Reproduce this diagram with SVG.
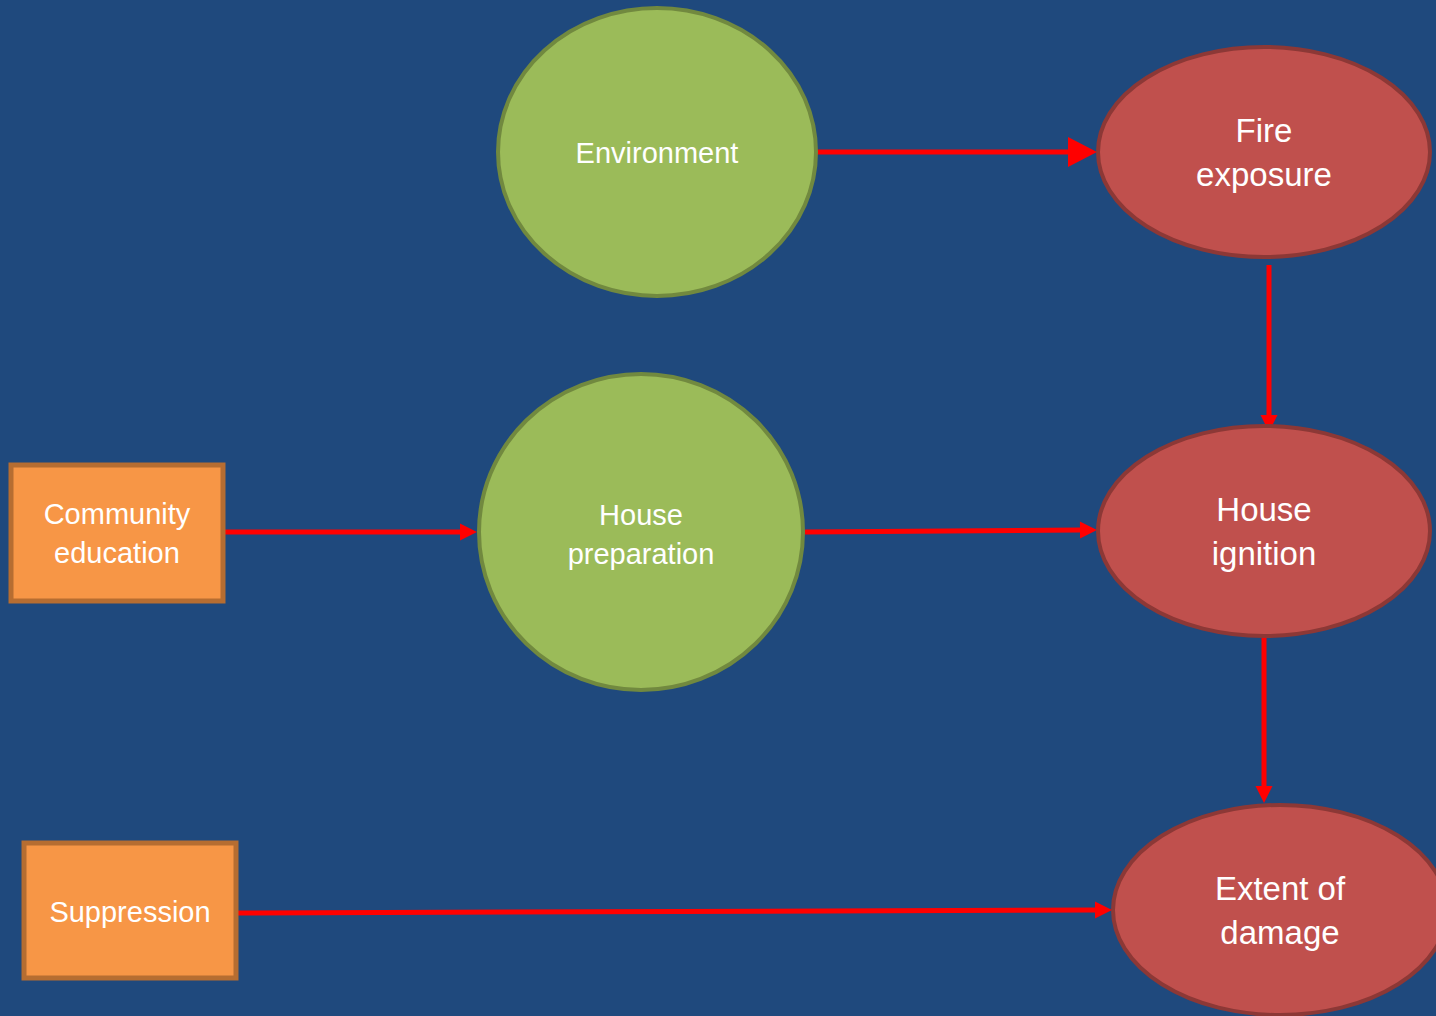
<svg xmlns="http://www.w3.org/2000/svg" width="1436" height="1016" viewBox="0 0 1436 1016">
<style>
.green{fill:#9BBB59;stroke:#71893F;stroke-width:4}
.red{fill:#C0504D;stroke:#8C3836;stroke-width:4}
.orange{fill:#F79646;stroke:#B66D31;stroke-width:5}
.t{font-family:"Liberation Sans",Arial,sans-serif;fill:#FFFFFF;text-anchor:middle}
.s29{font-size:29px}
.s33{font-size:33px}
.c{fill:none;stroke:#FF0000;stroke-width:5}
</style>
<defs>
<marker id="big" markerUnits="userSpaceOnUse" markerWidth="29" markerHeight="30" refX="0" refY="15" orient="auto" overflow="visible">
<path d="M0,0 L29,15 L0,30 Z" fill="#FF0000"/>
</marker>
<marker id="small" markerUnits="userSpaceOnUse" markerWidth="17" markerHeight="17" refX="0" refY="8.5" orient="auto" overflow="visible">
<path d="M0,0 L17,8.5 L0,17 Z" fill="#FF0000"/>
</marker>
</defs>
<rect x="0" y="0" width="1436" height="1016" fill="#1F497D"/>
<g id="connectors">
<path class="c" d="M817,152 L1068,152" marker-end="url(#big)"/>
<path class="c" d="M1269,265 L1269,415" marker-end="url(#small)"/>
<path class="c" d="M225,532 L460,532" marker-end="url(#small)"/>
<path class="c" d="M805,532 L1080,530" marker-end="url(#small)"/>
<path class="c" d="M1264,637 L1264,786" marker-end="url(#small)"/>
<path class="c" d="M238,913 L1095,910" marker-end="url(#small)"/>
</g>
<g id="environment">
<ellipse class="green" cx="657" cy="152" rx="159" ry="144"/>
<text class="t s29" x="657" y="163">Environment</text>
</g>
<g id="fire-exposure">
<ellipse class="red" cx="1264" cy="152" rx="166" ry="105"/>
<text class="t s33" x="1264" y="142">Fire</text>
<text class="t s33" x="1264" y="186">exposure</text>
</g>
<g id="house-preparation">
<ellipse class="green" cx="641" cy="532" rx="162" ry="158"/>
<text class="t s29" x="641" y="525">House</text>
<text class="t s29" x="641" y="564">preparation</text>
</g>
<g id="community-education">
<rect class="orange" x="11" y="465" width="212" height="136"/>
<text class="t s29" x="117" y="524">Community</text>
<text class="t s29" x="117" y="563">education</text>
</g>
<g id="house-ignition">
<ellipse class="red" cx="1264" cy="531" rx="166" ry="105"/>
<text class="t s33" x="1264" y="521">House</text>
<text class="t s33" x="1264" y="565">ignition</text>
</g>
<g id="suppression">
<rect class="orange" x="24" y="843" width="212" height="135"/>
<text class="t s29" x="130" y="922">Suppression</text>
</g>
<g id="extent-of-damage">
<ellipse class="red" cx="1280" cy="910" rx="167" ry="105"/>
<text class="t s33" x="1280" y="900">Extent of</text>
<text class="t s33" x="1280" y="944">damage</text>
</g>
</svg>
